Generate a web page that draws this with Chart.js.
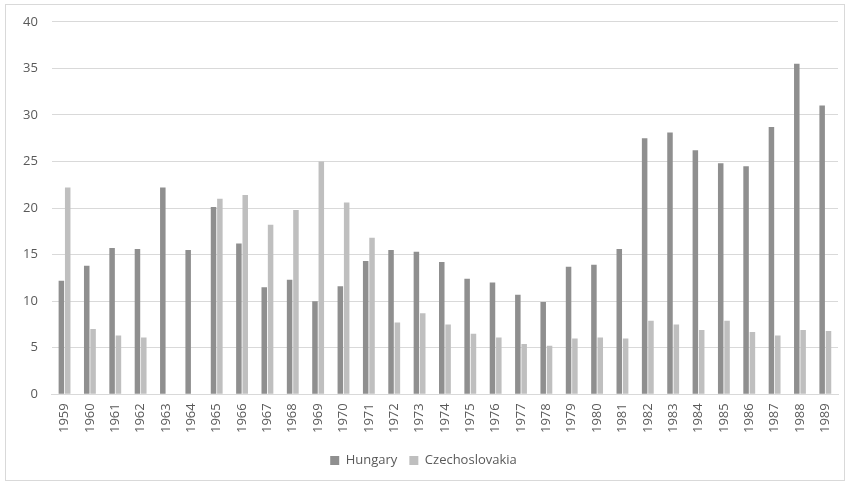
<!DOCTYPE html>
<html><head><meta charset="utf-8">
<script src="https://cdn.jsdelivr.net/npm/chart.js@4/dist/chart.umd.min.js"></script>
<style>
html,body{margin:0;padding:0;background:#fff;}
#frame{position:absolute;left:5px;top:4px;width:840px;height:477px;border:1px solid #d9d9d9;box-sizing:border-box;}
#wrap{position:absolute;left:0;top:0;width:852px;height:483px;}
</style></head>
<body>
<div id="frame"></div>
<div id="wrap"><canvas id="c" width="852" height="483"></canvas></div>
<script>
const years = ["1959","1960","1961","1962","1963","1964","1965","1966","1967","1968","1969","1970","1971","1972","1973","1974","1975","1976","1977","1978","1979","1980","1981","1982","1983","1984","1985","1986","1987","1988","1989"];
const hungary = [12.2,13.8,15.7,15.6,22.2,15.5,20.1,16.2,11.5,12.3,10.0,11.6,14.3,15.5,15.3,14.2,12.4,12.0,10.7,9.9,13.7,13.9,15.6,27.5,28.1,26.2,24.8,24.5,28.7,35.5,31.0];
const czechoslovakia = [22.2,7.0,6.3,6.1,null,null,21.0,21.4,18.2,19.8,25.0,20.6,16.8,7.7,8.7,7.5,6.5,6.1,5.4,5.2,6.0,6.1,6.0,7.9,7.5,6.9,7.9,6.7,6.3,6.9,6.8];
const yTicks = [0,5,10,15,20,25,30,35,40];

new Chart(document.getElementById('c'), {
  type: 'bar',
  data: {
    labels: years,
    datasets: [
      {label:'Hungary', data: hungary, backgroundColor:'#8f8f8f', borderWidth:0},
      {label:'Czechoslovakia', data: czechoslovakia, backgroundColor:'#bfbfbf', borderWidth:0}
    ]
  },
  options: {
    responsive:false, animation:false,
    datasets:{bar:{categoryPercentage:0.5, barPercentage:0.87}},
    layout:{padding:{left:9,right:14,top:18,bottom:6}},
    plugins:{
      legend:{position:'bottom', labels:{boxWidth:9, boxHeight:9, color:'#595959', font:{family:'Open Sans', size:13}, padding:12}},
      tooltip:{enabled:false}
    },
    scales:{
      x:{
        grid:{display:false, drawTicks:false},
        border:{color:'#d9d9d9'},
        ticks:{minRotation:90, maxRotation:90, color:'#595959', font:{family:'Open Sans', size:13}, padding:9}
      },
      y:{
        min:0, max:40,
        afterBuildTicks: ax => { ax.ticks = yTicks.map(v=>({value:v})); },
        grid:{color:'#d9d9d9', drawTicks:false},
        border:{display:false},
        ticks:{color:'#595959', font:{family:'Open Sans', size:13}, padding:14}
      }
    }
  }
});
</script>
</body></html>
